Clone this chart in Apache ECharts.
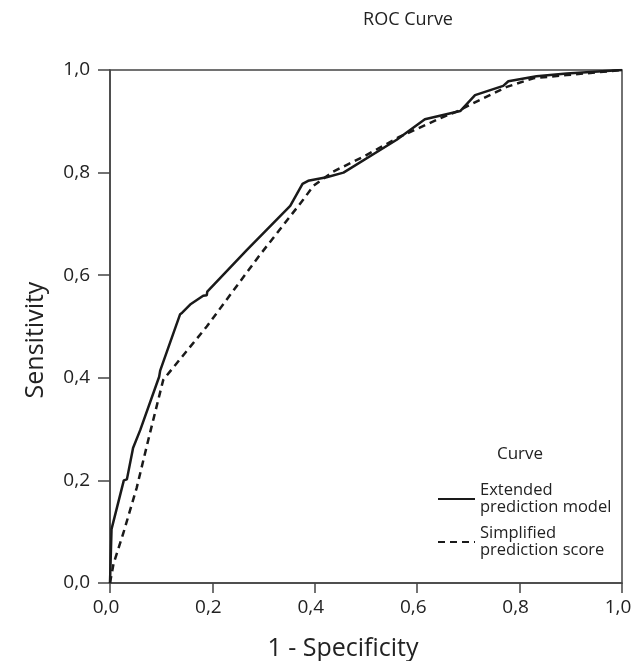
<!DOCTYPE html>
<html><head><meta charset="utf-8">
<script src="https://cdn.jsdelivr.net/npm/echarts@6/dist/echarts.min.js"></script>
<style>html,body{margin:0;padding:0;background:#fff}#c{width:635px;height:661px}</style>
</head><body><div id="c"></div>
<script>
var extX = [0, 0.003, 0.027, 0.033, 0.044, 0.045, 0.059, 0.096, 0.098, 0.137, 0.141, 0.158, 0.182, 0.189, 0.19, 0.267, 0.352, 0.376, 0.387, 0.423, 0.456, 0.56, 0.615, 0.684, 0.713, 0.768, 0.778, 0.833, 0.892, 1];
var extY = [0, 0.105, 0.2, 0.202, 0.258, 0.263, 0.298, 0.402, 0.414, 0.524, 0.527, 0.544, 0.56, 0.561, 0.568, 0.649, 0.735, 0.778, 0.784, 0.791, 0.8, 0.864, 0.904, 0.92, 0.951, 0.969, 0.978, 0.988, 0.993, 1];
var simX = [0, 0.007, 0.026, 0.052, 0.077, 0.104, 0.117, 0.189, 0.29, 0.378, 0.397, 0.436, 0.495, 0.566, 0.645, 0.677, 0.723, 0.775, 0.827, 0.892, 1];
var simY = [0, 0.038, 0.097, 0.185, 0.288, 0.396, 0.412, 0.5, 0.636, 0.748, 0.774, 0.802, 0.831, 0.87, 0.906, 0.919, 0.942, 0.967, 0.984, 0.99, 1];
var seriesNames = ['Extended\nprediction model', 'Simplified\nprediction score'];
var titleText = 'ROC Curve';
var legendTitle = 'Curve';
var xName = '1 - Specificity';
var yName = 'Sensitivity';
var tickFmt = function (v) { return v.toFixed(1).replace('.', ','); };

function pairs(xs, ys) { return xs.map(function (x, i) { return [x, ys[i]]; }); }

var FONT = 'Open Sans';
var TXT = '#222';
var chart = echarts.init(document.getElementById('c'), null, { renderer: 'canvas' });
chart.setOption({
  animation: false,
  backgroundColor: '#fff',
  graphic: [
    { type: 'text', x: 408, y: 20, style: { text: titleText, font: '18px "Open Sans"', fill: TXT, align: 'center', verticalAlign: 'middle' } },
    { type: 'text', x: 520, y: 454, style: { text: legendTitle, font: '17px "Open Sans"', fill: TXT, align: 'center', verticalAlign: 'middle' } },
    { type: 'text', x: 343, y: 649, style: { text: xName, font: '25px "Open Sans"', fill: TXT, align: 'center', verticalAlign: 'middle' } },
    { type: 'text', x: 36, y: 340, rotation: Math.PI / 2, style: { text: yName, font: '25px "Open Sans"', fill: TXT, align: 'center', verticalAlign: 'middle' } }
  ],
  grid: { left: 110, right: 13, top: 70, bottom: 78, show: true, borderColor: '#444', borderWidth: 1.5, backgroundColor: 'transparent' },
  legend: {
    orient: 'vertical', left: 432, top: 475, itemGap: 5, itemWidth: 37, itemHeight: 14,
    itemStyle: { opacity: 0 },
    textStyle: { fontFamily: FONT, fontSize: 16.5, color: TXT, lineHeight: 17, padding: [4, 0, 0, 0] },
    data: seriesNames
  },
  xAxis: {
    type: 'value', min: 0, max: 1, interval: 0.2,
    axisLine: { lineStyle: { color: '#444', width: 1.5 } },
    axisTick: { show: true, length: 10, lineStyle: { color: '#444', width: 1.5 } },
    axisLabel: { fontFamily: FONT, fontSize: 19, color: TXT, margin: 15, padding: [0, 8, 0, 0], formatter: tickFmt },
    splitLine: { show: false }
  },
  yAxis: {
    type: 'value', min: 0, max: 1, interval: 0.2,
    axisLine: { show: true, lineStyle: { color: '#444', width: 1.5 } },
    axisTick: { show: true, length: 12, lineStyle: { color: '#444', width: 1.5 } },
    axisLabel: { fontFamily: FONT, fontSize: 19, color: TXT, margin: 20, padding: [8, 0, 0, 0], formatter: tickFmt },
    splitLine: { show: false }
  },
  series: [
    { name: seriesNames[0], type: 'line', data: pairs(extX, extY), symbol: 'none',
      lineStyle: { color: '#1a1a1a', width: 2.5, type: 'solid' }, itemStyle: { color: '#1a1a1a' } },
    { name: seriesNames[1], type: 'line', data: pairs(simX, simY), symbol: 'none',
      lineStyle: { color: '#1a1a1a', width: 2.5, type: [7, 5] }, itemStyle: { color: '#1a1a1a' } }
  ]
});
</script></body></html>
